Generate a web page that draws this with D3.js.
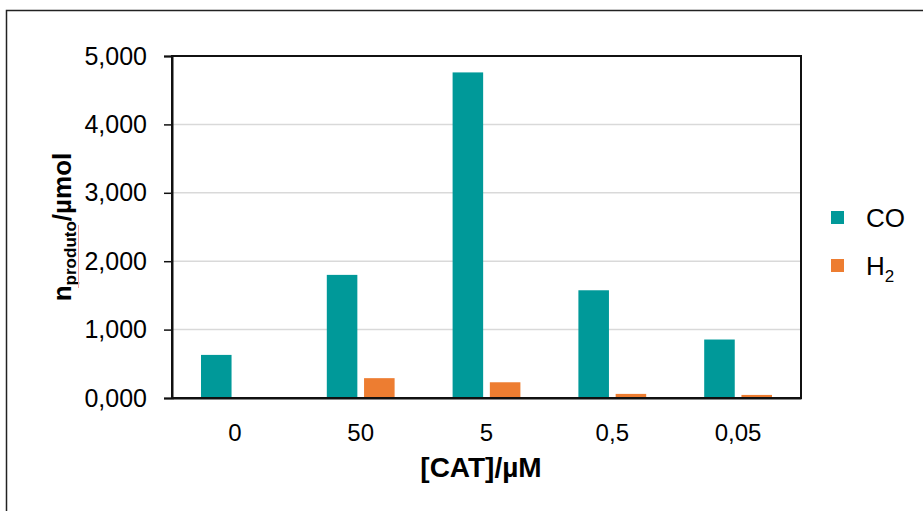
<!DOCTYPE html>
<html>
<head>
<meta charset="utf-8">
<script src="https://cdn.jsdelivr.net/npm/d3@7"></script>
<style>
  html, body { margin: 0; padding: 0; background: #fff; }
  svg { display: block; }
  text { font-family: "Liberation Sans", Arial, sans-serif; fill: #000; }
</style>
</head>
<body>
<svg id="chart" width="923" height="511"></svg>
<script>
// Catalyst concentration groups and measured product amounts
const categories = ["0", "50", "5", "0,5", "0,05"];
const seriesNames = ["CO", "H2"];
const coValues = [630, 1800, 4760, 1575, 855];
const h2Values = [10, 290, 230, 60, 45];
const yTicks = [0, 1000, 2000, 3000, 4000, 5000];

const colors = { CO: "#009999", H2: "#ED7D31" };

const rows = categories.map((c, i) => ({ cat: c, CO: coValues[i], H2: h2Values[i] }));

const svg = d3.select("#chart");
const W = 923, H = 511;
const plot = { left: 172, right: 801, top: 56, bottom: 398 };
const FONT = "'Liberation Sans', Arial, sans-serif";

// outer chart frame (runs past the right and bottom edges)
svg.append("rect")
  .attr("x", 6.5).attr("y", 10.5)
  .attr("width", W + 20).attr("height", H + 20)
  .attr("fill", "none").attr("stroke", "#222").attr("stroke-width", 1.5);

const x0 = d3.scaleBand().domain(categories).range([plot.left, plot.right]).padding(0);
const x1 = d3.scaleBand().domain(seriesNames)
  .range([29, x0.bandwidth() - 29]).paddingInner(0.18);
const y = d3.scaleLinear().domain([0, 5000]).range([plot.bottom, plot.top]);

// values shown in thousands with a decimal comma: 1000 -> "1,000"
const fmt = d => d3.format(".3f")(d / 1000).replace(".", ",");

// gridlines
svg.append("g")
  .selectAll("line").data(yTicks.filter(t => t > 0 && t < 5000)).join("line")
  .attr("x1", plot.left).attr("x2", plot.right)
  .attr("y1", d => y(d)).attr("y2", d => y(d))
  .attr("stroke", "#d9d9d9").attr("stroke-width", 1.5);

// bars
const groups = svg.append("g").selectAll("g").data(rows).join("g")
  .attr("transform", d => `translate(${x0(d.cat)},0)`);
groups.selectAll("rect")
  .data(d => seriesNames.map(s => ({ key: s, value: d[s] })))
  .join("rect")
  .attr("x", d => x1(d.key))
  .attr("width", x1.bandwidth())
  .attr("y", d => y(d.value))
  .attr("height", d => y(0) - y(d.value))
  .attr("fill", d => colors[d.key]);

// plot frame
svg.append("rect")
  .attr("x", plot.left).attr("y", plot.top)
  .attr("width", plot.right - plot.left).attr("height", plot.bottom - plot.top)
  .attr("fill", "none").attr("stroke", "#111").attr("stroke-width", 2);

// y axis
const yAxis = svg.append("g")
  .attr("transform", `translate(${plot.left},0)`)
  .call(d3.axisLeft(y).tickValues(yTicks).tickFormat(fmt).tickSize(8).tickPadding(17));
yAxis.select(".domain").attr("stroke", "#111").attr("stroke-width", 2);
yAxis.selectAll(".tick line").attr("stroke", "#111").attr("stroke-width", 1.5);
yAxis.selectAll(".tick text").attr("font-size", 25).attr("fill", "#000")
  .style("font-family", FONT);

// x axis labels
const xAxis = svg.append("g")
  .attr("transform", `translate(0,${plot.bottom})`)
  .call(d3.axisBottom(x0).tickSize(0).tickPadding(26));
xAxis.select(".domain").attr("stroke", "#111").attr("stroke-width", 2);
xAxis.selectAll(".tick text").attr("font-size", 24).attr("fill", "#000")
  .style("font-family", FONT);

// axis titles
svg.append("text")
  .attr("x", 481).attr("y", 477)
  .attr("text-anchor", "middle")
  .attr("font-size", 28).attr("font-weight", "bold")
  .text("[CAT]/µM");

const yt = svg.append("text")
  .attr("transform", `translate(71,227) rotate(-90)`)
  .attr("text-anchor", "middle")
  .attr("font-size", 26).attr("font-weight", "bold");
yt.append("tspan").text("n");
yt.append("tspan").attr("font-size", 17).attr("dy", 5).text("produto");
yt.append("tspan").attr("dy", -5).text("/µmol");

// faint proofing underline beneath the subscript
svg.append("line")
  .attr("x1", 78.5).attr("x2", 78.5).attr("y1", 225).attr("y2", 288)
  .attr("stroke", "#f2a0a0").attr("stroke-width", 1);

// legend
const legend = svg.append("g");
seriesNames.forEach((s, i) => {
  const ly = 218 + i * 48;
  legend.append("rect")
    .attr("x", 831).attr("y", ly - 7).attr("width", 13).attr("height", 13)
    .attr("fill", colors[s]);
  const t = legend.append("text")
    .attr("x", 866).attr("y", ly + 9)
    .attr("font-size", 26);
  if (s === "H2") {
    t.append("tspan").text("H");
    t.append("tspan").attr("font-size", 17).attr("dy", 7).text("2");
  } else {
    t.text(s);
  }
});
</script>
</body>
</html>
